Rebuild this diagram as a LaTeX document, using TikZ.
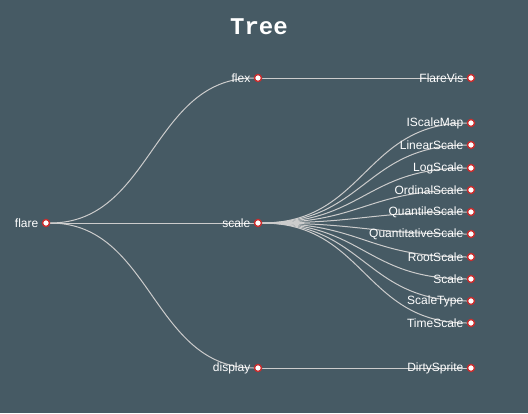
\documentclass[tikz,border=0pt]{standalone}
\usepackage{fontspec}
\setmainfont{Liberation Sans}
\newfontfamily\titlefont{Liberation Mono}
\definecolor{bgslate}{RGB}{70,90,100}
\definecolor{linkgray}{RGB}{204,204,204}
\definecolor{dotred}{RGB}{205,45,45}
\pgfdeclarelayer{back}
\pgfdeclarelayer{links}
\pgfsetlayers{back,links,main}

\begin{document}
\begin{tikzpicture}[x=1pt, y=-1pt,
	dot/.style={circle, draw=dotred, fill=white, line width=1.4pt, minimum size=7pt, inner sep=0pt,
		label={[text=white, font=\fontsize{12}{14}\selectfont, label distance=0pt]left:#1}},
	link/.style={draw=linkgray, line width=1pt}]
	\begin{pgfonlayer}{back}
		\fill[bgslate] (0,0) rectangle (528,413);
	\end{pgfonlayer}
	\node[text=white, font=\titlefont\bfseries\fontsize{24}{28}\selectfont] (title) at (259,27) {Tree};
	% root and first level
	\node[dot=flare] (flare) at (46,223) {};
	\node[dot=flex] (flex) at (258,78) {};
	\node[dot=scale] (scale) at (258,223) {};
	\node[dot=display] (display) at (258,368) {};
	\begin{pgfonlayer}{links}
		\foreach \n/\y in {flex/78, scale/223, display/368}
			\draw[link] (flare) .. controls (152,223) and (152,\y) .. (\n);
	\end{pgfonlayer}
	% leaves
	\node[dot=FlareVis] (FlareVis) at (471,78) {};
	\node[dot=DirtySprite] (DirtySprite) at (471,368) {};
	\begin{pgfonlayer}{links}
		\draw[link] (flex) -- (FlareVis);
		\draw[link] (display) -- (DirtySprite);
	\end{pgfonlayer}
	\foreach \n/\y in {IScaleMap/123, LinearScale/145, LogScale/168, OrdinalScale/190, QuantileScale/212,
		QuantitativeScale/234, RootScale/257, Scale/279, ScaleType/301, TimeScale/323} {
		\node[dot=\n] (\n) at (471,\y) {};
		\begin{pgfonlayer}{links}
			\draw[link] (scale) .. controls (364.5,223) and (364.5,\y) .. (\n);
		\end{pgfonlayer}
	}
\end{tikzpicture}
\end{document}
